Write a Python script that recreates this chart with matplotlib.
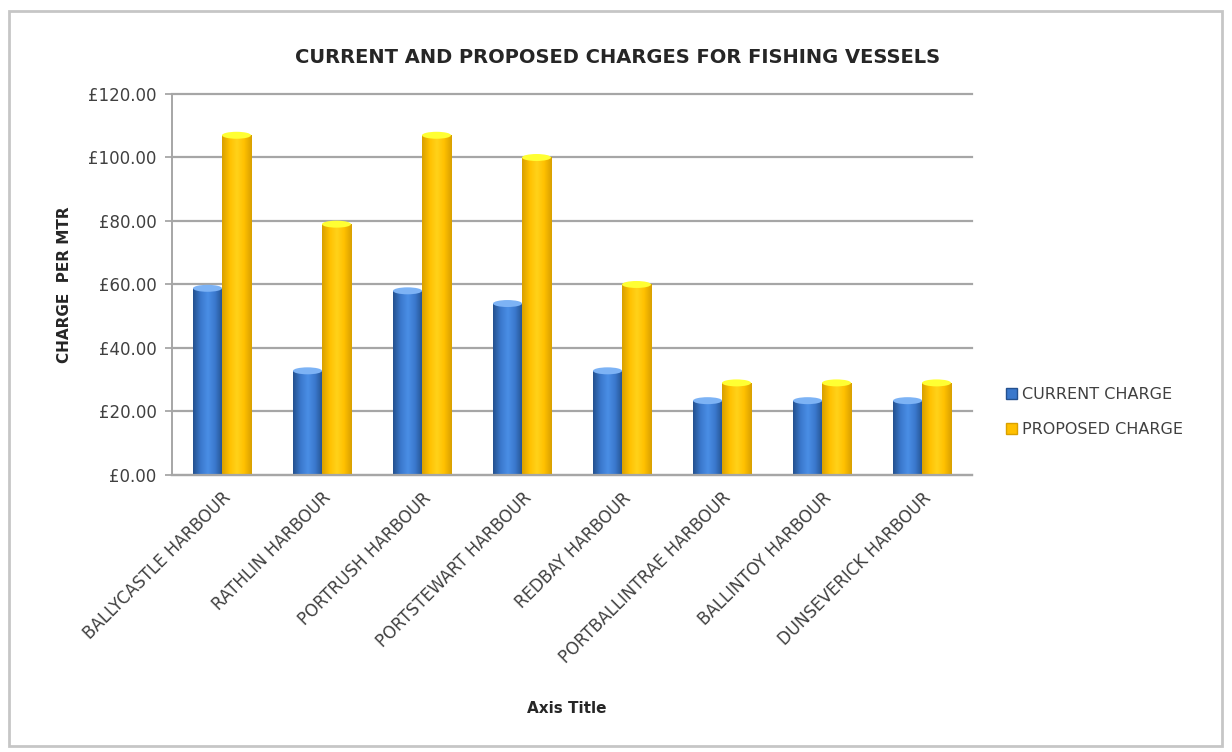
import numpy as np
import matplotlib.pyplot as plt
from matplotlib.colors import LinearSegmentedColormap
from matplotlib.patches import Ellipse, Rectangle, Patch

harbours = ["BALLYCASTLE HARBOUR", "RATHLIN HARBOUR", "PORTRUSH HARBOUR",
            "PORTSTEWART HARBOUR", "REDBAY HARBOUR", "PORTBALLINTRAE HARBOUR",
            "BALLINTOY HARBOUR", "DUNSEVERICK HARBOUR"]
current = [58.8, 32.8, 58.0, 54.0, 32.8, 23.4, 23.4, 23.4]
proposed = [107.0, 79.0, 107.0, 100.0, 60.0, 29.0, 29.0, 29.0]
yticks = [0, 20, 40, 60, 80, 100, 120]

plt.rcParams['font.family'] = ['DejaVu Sans']

# shading for the cylinder look: dark edges, light middle
blue_cm = LinearSegmentedColormap.from_list(
    "blue", ["#24518f", "#3a78cc", "#4a8ee6", "#3a78cc", "#24518f"])
gold_cm = LinearSegmentedColormap.from_list(
    "gold", ["#d9a000", "#ffc000", "#ffd21a", "#ffc000", "#d9a000"])


def cylinder_bars(ax, xs, vals, width, cmap, cap_color):
    bars = ax.bar(xs, vals, width, color="none", edgecolor="none")
    grad = np.linspace(0, 1, 64).reshape(1, -1)
    for b in bars:
        x0, w, h = b.get_x(), b.get_width(), b.get_height()
        im = ax.imshow(grad, cmap=cmap, aspect="auto",
                       extent=(x0, x0 + w, 0, h), zorder=2)
        im.set_clip_path(b)
        ax.add_patch(Ellipse((x0 + w / 2, h), w, 2.2, facecolor=cap_color,
                             edgecolor="none", zorder=3))
    return bars


fig = plt.figure(figsize=(12.32, 7.52), dpi=100)
ax = fig.add_axes([0.1396, 0.3684, 0.6494, 0.5066])

x = np.arange(len(harbours))
w = 0.29
cylinder_bars(ax, x - w / 2, current, w, blue_cm, "#7db3f5")
cylinder_bars(ax, x + w / 2, proposed, w, gold_cm, "#ffff33")

ax.set_xlim(-0.5, len(harbours) - 0.5)
ax.set_ylim(0, 120)
ax.set_yticks(yticks)
ax.set_yticklabels(["£{:.2f}".format(v) for v in yticks],
                   fontsize=12, color="#404040")
ax.set_xticks(x)
ax.set_xticklabels(harbours, rotation=45, ha="right", rotation_mode="anchor",
                   fontsize=12, color="#404040")
ax.tick_params(axis="x", length=0, pad=10)
ax.tick_params(axis="y", length=5, color="#a0a0a0", width=1.2, pad=6)

ax.grid(axis="y", color="#a6a6a6", linewidth=1.6, zorder=0)
for gl in ax.get_ygridlines():
    gl.set_clip_on(False)
ax.set_axisbelow(True)
for s in ["top", "right"]:
    ax.spines[s].set_visible(False)
ax.spines["left"].set_color("#a6a6a6")
ax.spines["bottom"].set_color("#a6a6a6")
ax.spines["left"].set_linewidth(1.4)
ax.spines["bottom"].set_linewidth(1.6)

fig.text(0.5016, 0.924, "CURRENT AND PROPOSED CHARGES FOR FISHING VESSELS",
         fontsize=14, fontweight="bold", color="#262626",
         ha="center", va="center")
ax.set_ylabel("CHARGE  PER MTR", fontsize=11, fontweight="bold",
              color="#262626", labelpad=12)
fig.text(0.46, 0.058, "Axis Title", fontsize=11, fontweight="bold",
         color="#262626", ha="center", va="center")

handles = [Patch(facecolor="#3a78cc", edgecolor="#24518f"),
           Patch(facecolor="#ffc000", edgecolor="#d9a000")]
fig.legend(handles, ["CURRENT CHARGE", "PROPOSED CHARGE"],
           loc="center left", bbox_to_anchor=(0.805, 0.452), frameon=False,
           fontsize=11.5, labelcolor="#404040", handlelength=0.7,
           handleheight=0.7, handletextpad=0.3, labelspacing=1.3)

# outer chart border
fig.patches.append(Rectangle((9 / 1232, 6 / 752), 1213 / 1232, 735 / 752,
                             transform=fig.transFigure, fill=False,
                             edgecolor="#c6c6c6", linewidth=2))

fig.savefig("out.png", dpi=100)
